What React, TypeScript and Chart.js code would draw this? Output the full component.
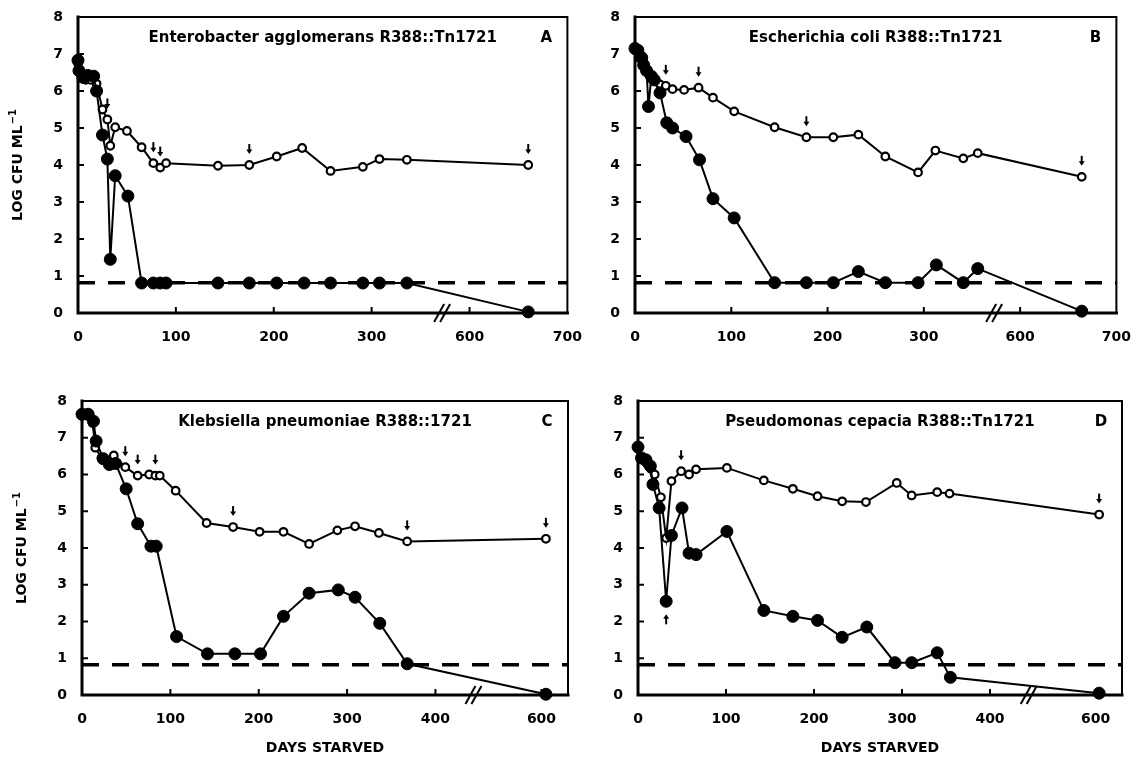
import React, { useEffect, useRef } from "react";
import { Chart, registerables } from "chart.js";

Chart.register(...registerables);

// ---------------- data ----------------
// Panel A – Enterobacter agglomerans
const daysAClosed = [0, 1, 5, 10, 16, 19, 25, 30, 33, 38, 51, 65, 77, 84, 90, 143, 175, 203, 231, 258, 291, 308, 336, 660];
const logAClosed = [6.83, 6.55, 6.37, 6.42, 6.4, 6.0, 4.81, 4.16, 1.45, 3.71, 3.16, 0.81, 0.81, 0.81, 0.81, 0.81, 0.81, 0.81, 0.81, 0.81, 0.81, 0.81, 0.81, 0.03];
const daysAOpen = [0, 3, 8, 13, 19, 25, 30, 33, 38, 50, 65, 77, 84, 90, 143, 175, 203, 229, 258, 291, 308, 336, 660];
const logAOpen = [6.75, 6.45, 6.3, 6.3, 6.2, 5.5, 5.23, 4.52, 5.02, 4.92, 4.48, 4.05, 3.93, 4.05, 3.98, 4.0, 4.23, 4.46, 3.84, 3.95, 4.16, 4.14, 4.0];
const arrowsAOpen = [30, 77, 84, 175, 660];

// Panel B – Escherichia coli
const daysBClosed = [0, 3, 7, 9, 12, 14, 17, 20, 26, 33, 39, 53, 67, 81, 103, 145, 178, 206, 232, 260, 294, 313, 341, 356, 664];
const logBClosed = [7.15, 7.1, 6.9, 6.7, 6.55, 5.58, 6.4, 6.3, 5.95, 5.14, 5.0, 4.77, 4.14, 3.09, 2.57, 0.82, 0.82, 0.82, 1.12, 0.82, 0.82, 1.3, 0.82, 1.2, 0.05];
const daysBOpen = [0, 4, 8, 12, 16, 21, 26, 32, 39, 51, 66, 81, 103, 145, 178, 206, 232, 260, 294, 312, 341, 356, 664];
const logBOpen = [7.1, 6.9, 6.7, 6.55, 6.4, 6.3, 6.18, 6.14, 6.05, 6.03, 6.09, 5.82, 5.45, 5.02, 4.75, 4.75, 4.82, 4.23, 3.8, 4.39, 4.18, 4.32, 3.68];
const arrowsBOpen = [32, 66, 178, 664];

// Panel C – Klebsiella pneumoniae
const daysCClosed = [0, 7, 13, 16, 24, 31, 38, 50, 63, 78, 84, 107, 142, 173, 202, 228, 257, 290, 309, 337, 368, 605];
const logCClosed = [7.64, 7.64, 7.45, 6.91, 6.43, 6.27, 6.3, 5.61, 4.66, 4.05, 4.05, 1.59, 1.12, 1.12, 1.12, 2.14, 2.77, 2.86, 2.66, 1.95, 0.85, 0.02];
const daysCOpen = [0, 6, 12, 15, 22, 30, 36, 49, 63, 76, 83, 88, 106, 141, 171, 201, 228, 257, 289, 309, 336, 368, 605];
const logCOpen = [7.6, 7.6, 7.4, 6.73, 6.45, 6.38, 6.52, 6.2, 5.97, 6.0, 5.97, 5.97, 5.56, 4.68, 4.57, 4.44, 4.44, 4.11, 4.48, 4.59, 4.41, 4.18, 4.25];
const arrowsCOpen = [49, 63, 83, 171, 368, 605];

// Panel D – Pseudomonas cepacia
const daysDClosed = [0, 4, 9, 14, 17, 24, 32, 38, 50, 58, 66, 101, 143, 176, 204, 232, 260, 292, 311, 340, 355, 604];
const logDClosed = [6.75, 6.45, 6.4, 6.23, 5.73, 5.09, 2.55, 4.34, 5.09, 3.86, 3.82, 4.45, 2.3, 2.14, 2.03, 1.57, 1.85, 0.88, 0.88, 1.15, 0.48, 0.05];
const daysDOpen = [0, 5, 10, 15, 19, 26, 32, 38, 49, 58, 66, 101, 143, 176, 204, 232, 259, 294, 311, 340, 354, 604];
const logDOpen = [6.7, 6.4, 6.3, 6.15, 6.0, 5.38, 4.27, 5.82, 6.09, 6.0, 6.14, 6.18, 5.84, 5.61, 5.41, 5.27, 5.25, 5.77, 5.43, 5.52, 5.48, 4.91];
const arrowsDOpen = [49, 604];
const arrowsDClosedUp = [32];

// axes
const xTickDaysTop = [0, 100, 200, 300, 600, 700];
const xTickDaysBottom = [0, 100, 200, 300, 400, 600];
const yTickValues = [0, 1, 2, 3, 4, 5, 6, 7, 8];
const detectionLimit = 0.82;

const FONT = "'DejaVu Sans', 'Liberation Sans', sans-serif";

type Panel = {
  title: string;
  letter: string;
  closedDays: number[];
  closedLog: number[];
  openDays: number[];
  openLog: number[];
  arrowsOpen: number[];
  arrowsClosedUp: number[];
  tickDays: number[];
  shift: number;
  xMaxDay: number;
  breakAt: number;
  canvas: { left: number; top: number; w: number; h: number };
  area: { left: number; top: number; right: number; bottom: number };
  yTitle: boolean;
  xTitle: boolean;
};

const PANELS: Panel[] = [
  {
    title: "Enterobacter agglomerans R388::Tn1721", letter: "A",
    closedDays: daysAClosed, closedLog: logAClosed, openDays: daysAOpen, openLog: logAOpen,
    arrowsOpen: arrowsAOpen, arrowsClosedUp: [], tickDays: xTickDaysTop, shift: 200, xMaxDay: 700, breakAt: 372,
    canvas: { left: 0, top: 0, w: 590, h: 375 }, area: { left: 78, top: 17, right: 568, bottom: 313 },
    yTitle: true, xTitle: false,
  },
  {
    title: "Escherichia coli R388::Tn1721", letter: "B",
    closedDays: daysBClosed, closedLog: logBClosed, openDays: daysBOpen, openLog: logBOpen,
    arrowsOpen: arrowsBOpen, arrowsClosedUp: [], tickDays: xTickDaysTop, shift: 200, xMaxDay: 700, breakAt: 373,
    canvas: { left: 590, top: 0, w: 549, h: 375 }, area: { left: 635, top: 17, right: 1122, bottom: 313 },
    yTitle: false, xTitle: false,
  },
  {
    title: "Klebsiella pneumoniae R388::1721", letter: "C",
    closedDays: daysCClosed, closedLog: logCClosed, openDays: daysCOpen, openLog: logCOpen,
    arrowsOpen: arrowsCOpen, arrowsClosedUp: [], tickDays: xTickDaysBottom, shift: 80, xMaxDay: 630, breakAt: 443,
    canvas: { left: 0, top: 375, w: 590, h: 383 }, area: { left: 82, top: 401, right: 568, bottom: 695 },
    yTitle: true, xTitle: true,
  },
  {
    title: "Pseudomonas cepacia R388::Tn1721", letter: "D",
    closedDays: daysDClosed, closedLog: logDClosed, openDays: daysDOpen, openLog: logDOpen,
    arrowsOpen: arrowsDOpen, arrowsClosedUp: arrowsDClosedUp, tickDays: xTickDaysBottom, shift: 80, xMaxDay: 630, breakAt: 444,
    canvas: { left: 590, top: 375, w: 549, h: 383 }, area: { left: 638, top: 401, right: 1122, bottom: 695 },
    yTitle: false, xTitle: true,
  },
];

const Y_W = 40;
const X_H = 40;

function drawArrow(ctx: CanvasRenderingContext2D, x: number, tipY: number, dir: number) {
  // dir = 1 -> pointing down, -1 -> pointing up
  ctx.save();
  ctx.strokeStyle = "#000";
  ctx.fillStyle = "#000";
  ctx.lineWidth = 2;
  ctx.beginPath();
  ctx.moveTo(x, tipY - dir * 10);
  ctx.lineTo(x, tipY - dir * 3);
  ctx.stroke();
  ctx.beginPath();
  ctx.moveTo(x - 3, tipY - dir * 4.5);
  ctx.lineTo(x + 3, tipY - dir * 4.5);
  ctx.lineTo(x, tipY);
  ctx.closePath();
  ctx.fill();
  ctx.restore();
}

function makeDecor(p: Panel, toX: (d: number) => number) {
  return {
    id: "decor" + p.letter,
    beforeDatasetsDraw(chart: any) {
      const { ctx, chartArea, scales } = chart;
      const { left, right, top, bottom } = chartArea;
      ctx.save();
      ctx.strokeStyle = "#000";
      ctx.lineCap = "square";
      // top & right frame
      ctx.lineWidth = 2;
      ctx.beginPath();
      ctx.moveTo(left, top);
      ctx.lineTo(right, top);
      ctx.lineTo(right, bottom);
      ctx.stroke();
      // left & bottom axes
      ctx.lineWidth = 3;
      ctx.beginPath();
      ctx.moveTo(left, top);
      ctx.lineTo(left, bottom);
      ctx.lineTo(right, bottom);
      ctx.stroke();
      // inward ticks
      ctx.lineWidth = 2;
      ctx.lineCap = "butt";
      yTickValues.forEach((v) => {
        const y = scales.y.getPixelForValue(v);
        ctx.beginPath();
        ctx.moveTo(left, y);
        ctx.lineTo(left + 6, y);
        ctx.stroke();
      });
      p.tickDays.forEach((d) => {
        const x = scales.x.getPixelForValue(toX(d));
        if (Math.abs(x - left) < 2 || Math.abs(x - right) < 2) return;
        ctx.beginPath();
        ctx.moveTo(x, bottom);
        ctx.lineTo(x, bottom - 6);
        ctx.stroke();
      });
      ctx.restore();
    },
    afterDatasetsDraw(chart: any) {
      const { ctx, chartArea, scales } = chart;
      const { left, right, top, bottom } = chartArea;
      ctx.save();
      // axis break marks
      const bx = scales.x.getPixelForValue(p.breakAt);
      ctx.strokeStyle = "#000";
      ctx.lineWidth = 2;
      [-3, 3].forEach((o) => {
        ctx.beginPath();
        ctx.moveTo(bx + o - 5, bottom + 9);
        ctx.lineTo(bx + o + 5, bottom - 9);
        ctx.stroke();
      });
      // arrows above open points
      p.arrowsOpen.forEach((d) => {
        const i = p.openDays.indexOf(d);
        if (i < 0) return;
        const x = scales.x.getPixelForValue(toX(d));
        const y = scales.y.getPixelForValue(p.openLog[i]);
        drawArrow(ctx, x, y - 11, 1);
      });
      p.arrowsClosedUp.forEach((d) => {
        const i = p.closedDays.indexOf(d);
        if (i < 0) return;
        const x = scales.x.getPixelForValue(toX(d));
        const y = scales.y.getPixelForValue(p.closedLog[i]);
        drawArrow(ctx, x, y + 13, -1);
      });
      // title + panel letter
      ctx.fillStyle = "#000";
      ctx.font = `bold 15px ${FONT}`;
      ctx.textBaseline = "middle";
      ctx.textAlign = "center";
      ctx.fillText(p.title, (left + right) / 2, top + 21);
      ctx.fillText(p.letter, right - 21, top + 21);
      // axis titles
      if (p.xTitle) {
        ctx.font = `bold 14px ${FONT}`;
        ctx.fillText("DAYS STARVED", (left + right) / 2, bottom + 53);
      }
      if (p.yTitle) {
        ctx.save();
        ctx.translate(left - 60, (top + bottom) / 2);
        ctx.rotate(-Math.PI / 2);
        ctx.font = `bold 14px ${FONT}`;
        const main = "LOG CFU ML";
        const wMain = ctx.measureText(main).width;
        ctx.font = `bold 10px ${FONT}`;
        const sup = "\u22121";
        const wSup = ctx.measureText(sup).width;
        const start = -(wMain + wSup + 1) / 2;
        ctx.textAlign = "left";
        ctx.font = `bold 14px ${FONT}`;
        ctx.fillText(main, start, 0);
        ctx.font = `bold 10px ${FONT}`;
        ctx.fillText(sup, start + wMain + 1, -5);
        ctx.restore();
      }
      ctx.restore();
    },
  };
}

function createChart(canvas: HTMLCanvasElement, p: Panel) {
  const toX = (d: number) => (d >= 500 ? d - p.shift : d);
  const padding = {
    left: p.area.left - p.canvas.left - Y_W,
    top: p.area.top - p.canvas.top,
    right: p.canvas.left + p.canvas.w - p.area.right,
    bottom: p.canvas.top + p.canvas.h - p.area.bottom - X_H,
  };
  const closed = p.closedDays.map((d, i) => ({ x: toX(d), y: p.closedLog[i] }));
  const open = p.openDays.map((d, i) => ({ x: toX(d), y: p.openLog[i] }));
  const xMax = toX(p.xMaxDay);
  const limit = [
    { x: 0, y: detectionLimit },
    { x: xMax, y: detectionLimit },
  ];
  const tickFont = { family: FONT, size: 14, weight: "bold" as const };
  return new Chart(canvas, {
    type: "scatter",
    data: {
      datasets: [
        {
          label: "closed",
          data: closed,
          showLine: true,
          borderColor: "#000",
          borderWidth: 2,
          pointRadius: 6,
          pointBackgroundColor: "#000",
          pointBorderColor: "#000",
          pointBorderWidth: 1,
          clip: false,
        },
        {
          label: "open",
          data: open,
          showLine: true,
          borderColor: "#000",
          borderWidth: 2,
          pointRadius: 3.8,
          pointBackgroundColor: "#fff",
          pointBorderColor: "#000",
          pointBorderWidth: 2.2,
          clip: false,
        },
        {
          label: "limit",
          data: limit,
          showLine: true,
          borderColor: "#000",
          borderWidth: 3.5,
          borderDash: [17, 13],
          pointRadius: 0,
          clip: false,
        },
      ],
    } as any,
    options: {
      responsive: false,
      animation: false,
      devicePixelRatio: 1,
      layout: { padding },
      plugins: { legend: { display: false }, tooltip: { enabled: false } },
      scales: {
        x: {
          type: "linear",
          min: 0,
          max: xMax,
          afterFit: (s: any) => {
            s.height = X_H;
          },
          afterBuildTicks: (s: any) => {
            s.ticks = p.tickDays.map((d) => ({ value: toX(d) }));
          },
          ticks: {
            autoSkip: false,
            maxRotation: 0,
            padding: 8,
            color: "#000",
            font: tickFont,
            callback: (v: any) => {
              const d = p.tickDays.find((t) => toX(t) === v);
              return d === undefined ? "" : String(d);
            },
          },
          grid: { display: false },
          border: { display: false },
        },
        y: {
          min: 0,
          max: 8,
          afterFit: (s: any) => {
            s.width = Y_W;
          },
          afterBuildTicks: (s: any) => {
            s.ticks = yTickValues.map((v) => ({ value: v }));
          },
          ticks: { padding: 7, color: "#000", font: tickFont },
          grid: { display: false },
          border: { display: false },
        },
      },
    } as any,
    plugins: [makeDecor(p, toX)],
  });
}

function PanelChart({ p }: { p: Panel }) {
  const ref = useRef<HTMLCanvasElement>(null);
  useEffect(() => {
    if (!ref.current) return;
    const chart = createChart(ref.current, p);
    return () => chart.destroy();
  }, [p]);
  return (
    <canvas
      ref={ref}
      width={p.canvas.w}
      height={p.canvas.h}
      style={{
        position: "absolute",
        left: p.canvas.left,
        top: p.canvas.top,
        width: p.canvas.w,
        height: p.canvas.h,
      }}
    />
  );
}

export default function App() {
  return (
    <div
      style={{
        position: "absolute",
        left: 0,
        top: 0,
        width: 1139,
        height: 758,
        background: "#fff",
        overflow: "hidden",
      }}
    >
      {PANELS.map((p) => (
        <PanelChart key={p.letter} p={p} />
      ))}
    </div>
  );
}
